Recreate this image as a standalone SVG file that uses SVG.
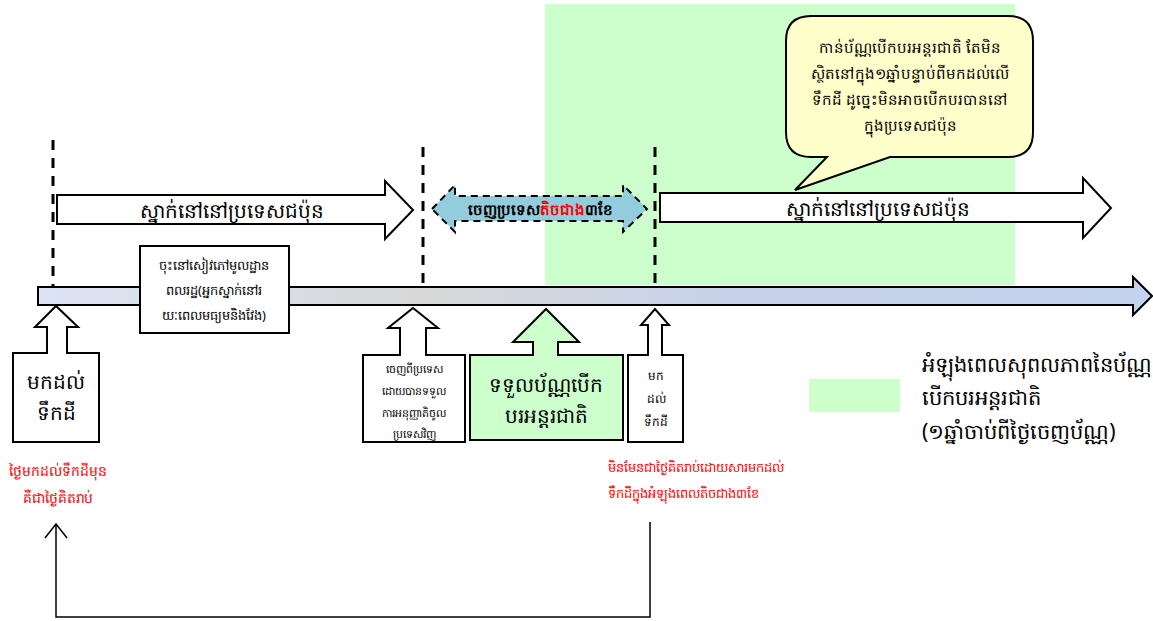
<svg xmlns="http://www.w3.org/2000/svg" width="1153" height="621" viewBox="0 0 1153 621">
<defs>
<style>
.t{font-family:"Noto Sans","DejaVu Sans",sans-serif;fill:#000;text-anchor:middle}
.r{fill:#ff0000}
.blk{fill:#fff;stroke:#000;stroke-width:2;stroke-linejoin:miter}
.dash{stroke:#000;stroke-width:3;stroke-dasharray:10,8;fill:none}
</style>
<linearGradient id="tl" x1="0" y1="0" x2="1" y2="0">
<stop offset="0" stop-color="#dce3f5"/>
<stop offset="0.35" stop-color="#d8d8d8"/>
<stop offset="0.6" stop-color="#c8d3ea"/>
<stop offset="1" stop-color="#c3d2ef"/>
</linearGradient>
</defs>
<rect width="1153" height="621" fill="#fff"/>
<g id="validity-period"><rect x="545" y="4" width="470" height="281" fill="#ccffcc"/></g>
<g id="timeline"><path d="M38,287 H1133 V277 L1152,296 L1133,315 V305 H38 Z" fill="url(#tl)" stroke="#000" stroke-width="2"/></g>
<g id="dashed-lines">
<line class="dash" x1="53" y1="140" x2="53" y2="287"/>
<line class="dash" x1="423" y1="147" x2="423" y2="287"/>
<line class="dash" x1="655" y1="147" x2="655" y2="287"/>
</g>
<g id="stay1">
<path class="blk" d="M57,195 H385 V181 L413,210 L385,239 V224 H57 Z"/>
<text class="t" x="232" y="218" font-size="20">ស្នាក់នៅនៅប្រទេសជប៉ុន</text>
</g>
<g id="leave">
<path d="M432,209 L455,185 V196 H623 V185 L647,209 L623,232 V221 H455 V232 Z" fill="#93cddd" stroke="#000" stroke-width="2" stroke-dasharray="7,5"/>
<text class="t" x="540" y="215" font-size="15" font-weight="bold">ចេញប្រទេស<tspan class="r">តិចជាង</tspan>៣ខែ</text>
</g>
<g id="stay2">
<path class="blk" d="M660,193 H1083 V178 L1111,208 L1083,238 V222 H660 Z"/>
<text class="t" x="878" y="216" font-size="20">ស្នាក់នៅនៅប្រទេសជប៉ុន</text>
</g>
<g id="register">
<rect class="blk" x="140" y="246" width="149" height="87"/>
<text class="t" x="214" y="270" font-size="13">ចុះនៅសៀវភៅមូលដ្ឋាន</text>
<text class="t" x="214" y="295" font-size="13">ពលរដ្ឋ(អ្នកស្នាក់នៅរ</text>
<text class="t" x="214" y="320" font-size="13">យៈពេលមធ្យមនិងវែង)</text>
</g>
<g id="arrive1">
<path class="blk" d="M13,353 H47 V327 H35 L56,306 L78,327 H67 V353 H99 V442 H13 Z"/>
<text class="t" x="56" y="389" font-size="20">មកដល់</text>
<text class="t" x="56" y="420" font-size="20">ទឹកដី</text>
</g>
<g id="reentry">
<path class="blk" d="M363,355 H400 V328 H388 L413,308 L438,328 H426 V355 H465 V442 H363 Z"/>
<text class="t" x="414" y="373" font-size="11">ចេញពីប្រទេស</text>
<text class="t" x="414" y="395" font-size="11">ដោយបានទទួល</text>
<text class="t" x="414" y="417" font-size="11">ការអនុញ្ញាតិចូល</text>
<text class="t" x="414" y="438" font-size="11">ប្រទេសវិញ</text>
</g>
<g id="get-license">
<path d="M470,355 H533 V342 H513 L546,309 L579,342 H558 V355 H623 V440 H470 Z" fill="#ccffcc" stroke="#000" stroke-width="2"/>
<text class="t" x="546" y="392" font-size="20">ទទួលប័ណ្ណបើក</text>
<text class="t" x="546" y="423" font-size="20">បរអន្តរជាតិ</text>
</g>
<g id="arrive2">
<path class="blk" d="M628,355 H648 V325 H641 L655,309 L669,325 H662 V355 H683 V442 H628 Z"/>
<text class="t" x="656" y="380" font-size="12">មក</text>
<text class="t" x="656" y="403" font-size="12">ដល់</text>
<text class="t" x="656" y="426" font-size="12">ទឹកដី</text>
</g>
<g id="note-left">
<text class="t r" x="58" y="476" font-size="14">ថ្ងៃមកដល់ទឹកដីមុន</text>
<text class="t r" x="58" y="503" font-size="14">គឺជាថ្ងៃគិតរាប់</text>
</g>
<g id="note-right">
<text class="t r" x="608" y="472" font-size="13" style="text-anchor:start">មិនមែនជាថ្ងៃគិតរាប់ដោយសារមកដល់</text>
<text class="t r" x="608" y="498" font-size="13" style="text-anchor:start">ទឹកដីក្នុងអំឡុងពេលតិចជាង៣ខែ</text>
</g>
<g id="callout">
<path d="M811,16 H1008 Q1033,16 1033,41 V132 Q1033,157 1008,157 H890 L795,190 L827,157 H811 Q786,157 786,132 V41 Q786,16 811,16 Z" fill="#ffffcc" stroke="#000" stroke-width="2"/>
<text class="t" x="910" y="53" font-size="15">កាន់ប័ណ្ណបើកបរអន្តរជាតិ តែមិន</text>
<text class="t" x="910" y="79" font-size="15">ស្ថិតនៅក្នុង១ឆ្នាំបន្ទាប់ពីមកដល់លើ</text>
<text class="t" x="910" y="105" font-size="15">ទឹកដី ដូច្នេះមិនអាចបើកបរបាននៅ</text>
<text class="t" x="910" y="131" font-size="15">ក្នុងប្រទេសជប៉ុន</text>
</g>
<g id="legend">
<rect x="809" y="379" width="91" height="33" fill="#ccffcc"/>
<text class="t" x="922" y="372" font-size="21" style="text-anchor:start">អំឡុងពេលសុពលភាពនៃប័ណ្ណ</text>
<text class="t" x="922" y="405" font-size="21" style="text-anchor:start">បើកបរអន្តរជាតិ</text>
<text class="t" x="922" y="439" font-size="21" style="text-anchor:start">(១ឆ្នាំចាប់ពីថ្ងៃចេញប័ណ្ណ)</text>
</g>
<g id="connectors">
<path d="M650,522 V617 H56 V525" fill="none" stroke="#000" stroke-width="1.5"/>
<path d="M45,538 L56,524 L67,538" fill="none" stroke="#000" stroke-width="1.5"/>
</g>
</svg>
